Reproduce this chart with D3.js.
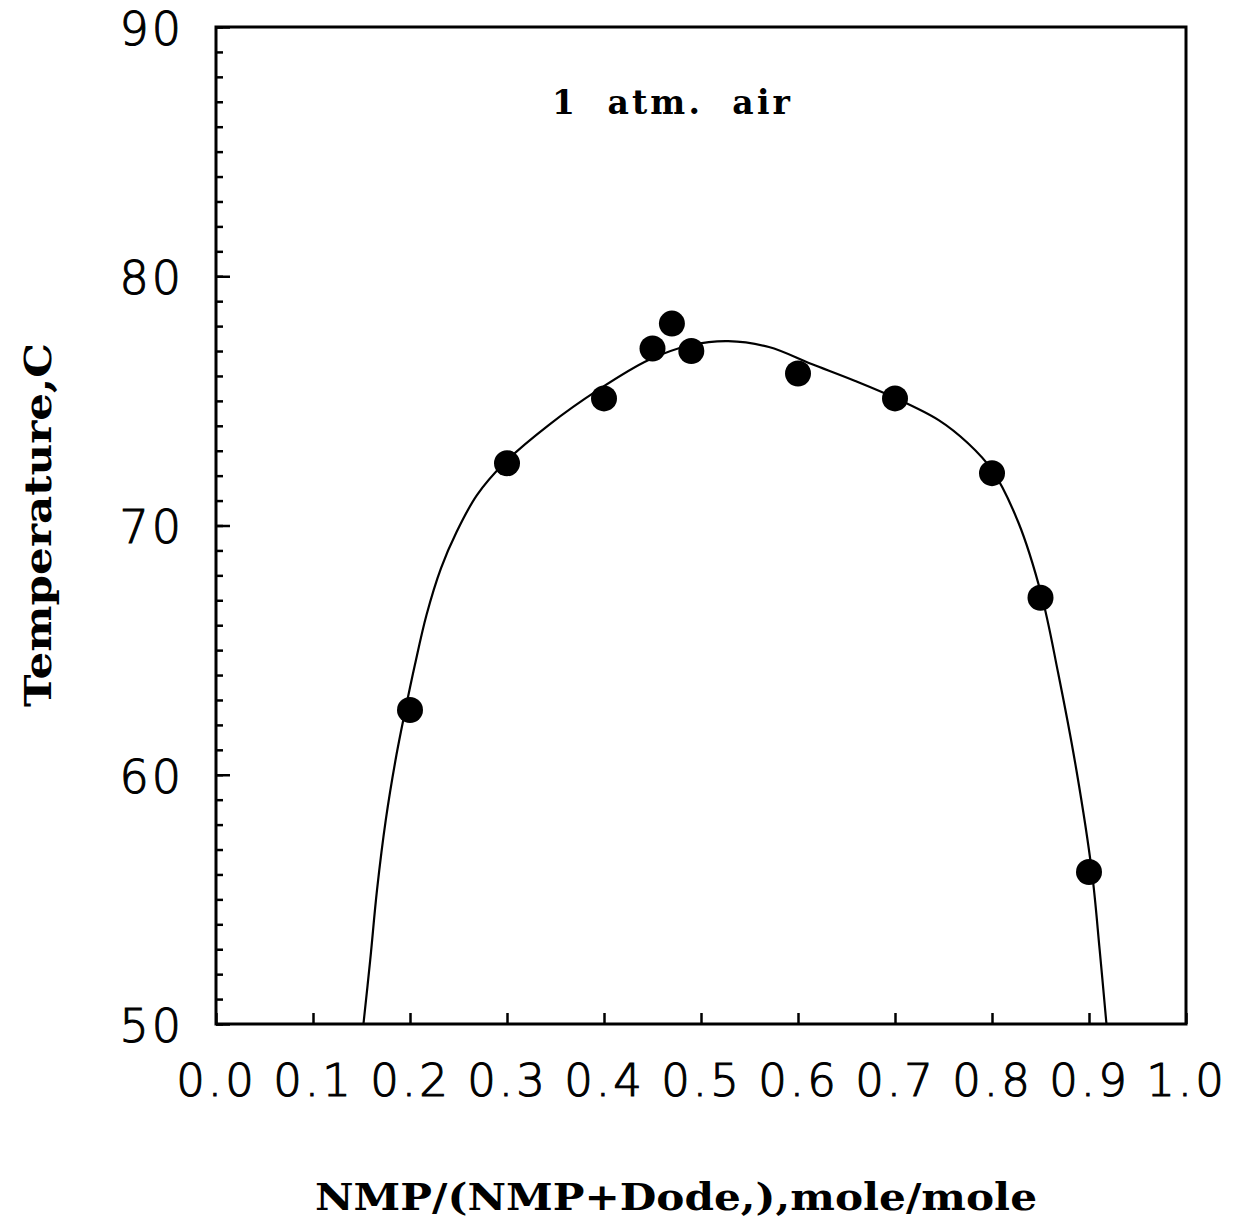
<!DOCTYPE html>
<html>
<head>
<meta charset="utf-8">
<script src="https://cdn.jsdelivr.net/npm/d3@7"></script>
<style>
  body { margin: 0; background: #fff; }
  svg { display: block; }
</style>
</head>
<body>
<svg id="chart"></svg>
<script>
// measured points
const pointX = [0.2, 0.3, 0.4, 0.45, 0.47, 0.49, 0.6, 0.7, 0.8, 0.85, 0.9];
const pointT = [62.6, 72.5, 75.1, 77.1, 78.1, 77.0, 76.1, 75.1, 72.1, 67.1, 56.1];

// fitted curve
const curveX = [0.152, 0.159, 0.166, 0.175, 0.186, 0.195, 0.205, 0.217, 0.232, 0.248, 0.269, 0.297, 0.343, 0.394, 0.446, 0.490, 0.528, 0.570, 0.614, 0.659, 0.700, 0.745, 0.775, 0.800, 0.827, 0.851, 0.868, 0.887, 0.903, 0.911, 0.918];
const curveT = [50.0, 52.57, 55.38, 58.18, 60.79, 62.56, 64.40, 66.41, 68.29, 69.74, 71.22, 72.50, 74.03, 75.44, 76.64, 77.24, 77.40, 77.16, 76.48, 75.80, 75.12, 74.23, 73.31, 72.23, 70.14, 67.21, 64.12, 60.19, 56.10, 52.97, 50.0];

const xTicks = [0.0, 0.1, 0.2, 0.3, 0.4, 0.5, 0.6, 0.7, 0.8, 0.9, 1.0];
const yTicks = [50, 60, 70, 80, 90];

const width = 1233;
const height = 1228;
const margin = { top: 27, right: 47, bottom: 204, left: 216 };

const svg = d3.select("#chart").attr("width", width).attr("height", height);

const x = d3.scaleLinear().domain([0, 1]).range([margin.left, width - margin.right]);
const y = d3.scaleLinear().domain([50, 90]).range([height - margin.bottom, margin.top]);

const tickFont = "'DejaVu Sans', sans-serif";
const titleFont = "'DejaVu Serif', serif";

function styleTickText(g, size) {
  g.selectAll("text")
    .attr("font-family", tickFont)
    .attr("font-weight", 200)
    .attr("font-size", size)
    .attr("letter-spacing", 3)
    .attr("fill", "#000")
    .attr("stroke", "#000")
    .attr("stroke-width", 1.1);
}

// y minor ticks
svg.append("g")
  .attr("transform", `translate(${margin.left},0)`)
  .call(d3.axisLeft(y).tickValues(d3.range(50, 91, 1)).tickSize(-7).tickFormat(""))
  .call((g) => g.select(".domain").remove())
  .call((g) => g.selectAll("line").attr("stroke-width", 2.5));

// y axis
svg.append("g")
  .attr("transform", `translate(${margin.left},0)`)
  .call(d3.axisLeft(y).tickValues(yTicks).tickSize(-14).tickPadding(32).tickFormat(d3.format("d")))
  .call((g) => g.select(".domain").remove())
  .call((g) => g.selectAll("line").attr("stroke-width", 2.5))
  .call((g) => styleTickText(g, 46))
  .call((g) => g.selectAll("text").attr("dy", "0.38em"));

// x axis
svg.append("g")
  .attr("transform", `translate(0,${height - margin.bottom})`)
  .call(d3.axisBottom(x).tickValues(xTicks).tickSize(-11).tickPadding(40).tickFormat(d3.format(".1f")))
  .call((g) => g.select(".domain").remove())
  .call((g) => g.selectAll("line").attr("stroke-width", 2.5))
  .call((g) => styleTickText(g, 45));

// frame
svg.append("rect")
  .attr("x", margin.left)
  .attr("y", margin.top)
  .attr("width", width - margin.left - margin.right)
  .attr("height", height - margin.top - margin.bottom)
  .attr("fill", "none")
  .attr("stroke", "#000")
  .attr("stroke-width", 3);

// fitted curve
const line = d3.line()
  .x((d, i) => x(curveX[i]))
  .y((d, i) => y(curveT[i]))
  .curve(d3.curveCatmullRom.alpha(0.5));

svg.append("path")
  .datum(curveX)
  .attr("fill", "none")
  .attr("stroke", "#000")
  .attr("stroke-width", 2.2)
  .attr("d", line);

// data points
svg.append("g")
  .selectAll("circle")
  .data(pointX)
  .join("circle")
  .attr("cx", (d) => x(d))
  .attr("cy", (d, i) => y(pointT[i]))
  .attr("r", 13)
  .attr("fill", "#000");

// annotation
svg.append("text")
  .attr("x", 671)
  .attr("y", 114)
  .attr("text-anchor", "middle")
  .attr("font-family", titleFont)
  .attr("font-weight", "bold")
  .attr("font-size", 33)
  .attr("textLength", 238)
  .attr("lengthAdjust", "spacing")
  .style("white-space", "pre")
  .text("1  atm.  air");

// x title
svg.append("text")
  .attr("x", 676)
  .attr("y", 1210)
  .attr("text-anchor", "middle")
  .attr("font-family", titleFont)
  .attr("font-weight", "bold")
  .attr("font-size", 38)
  .attr("textLength", 722)
  .attr("lengthAdjust", "spacingAndGlyphs")
  .text("NMP/(NMP+Dode,),mole/mole");

// y title
svg.append("text")
  .attr("transform", "translate(51,525) rotate(-90)")
  .attr("text-anchor", "middle")
  .attr("font-family", titleFont)
  .attr("font-weight", "bold")
  .attr("font-size", 37)
  .attr("textLength", 364)
  .attr("lengthAdjust", "spacingAndGlyphs")
  .text("Temperature,C");
</script>
</body>
</html>
